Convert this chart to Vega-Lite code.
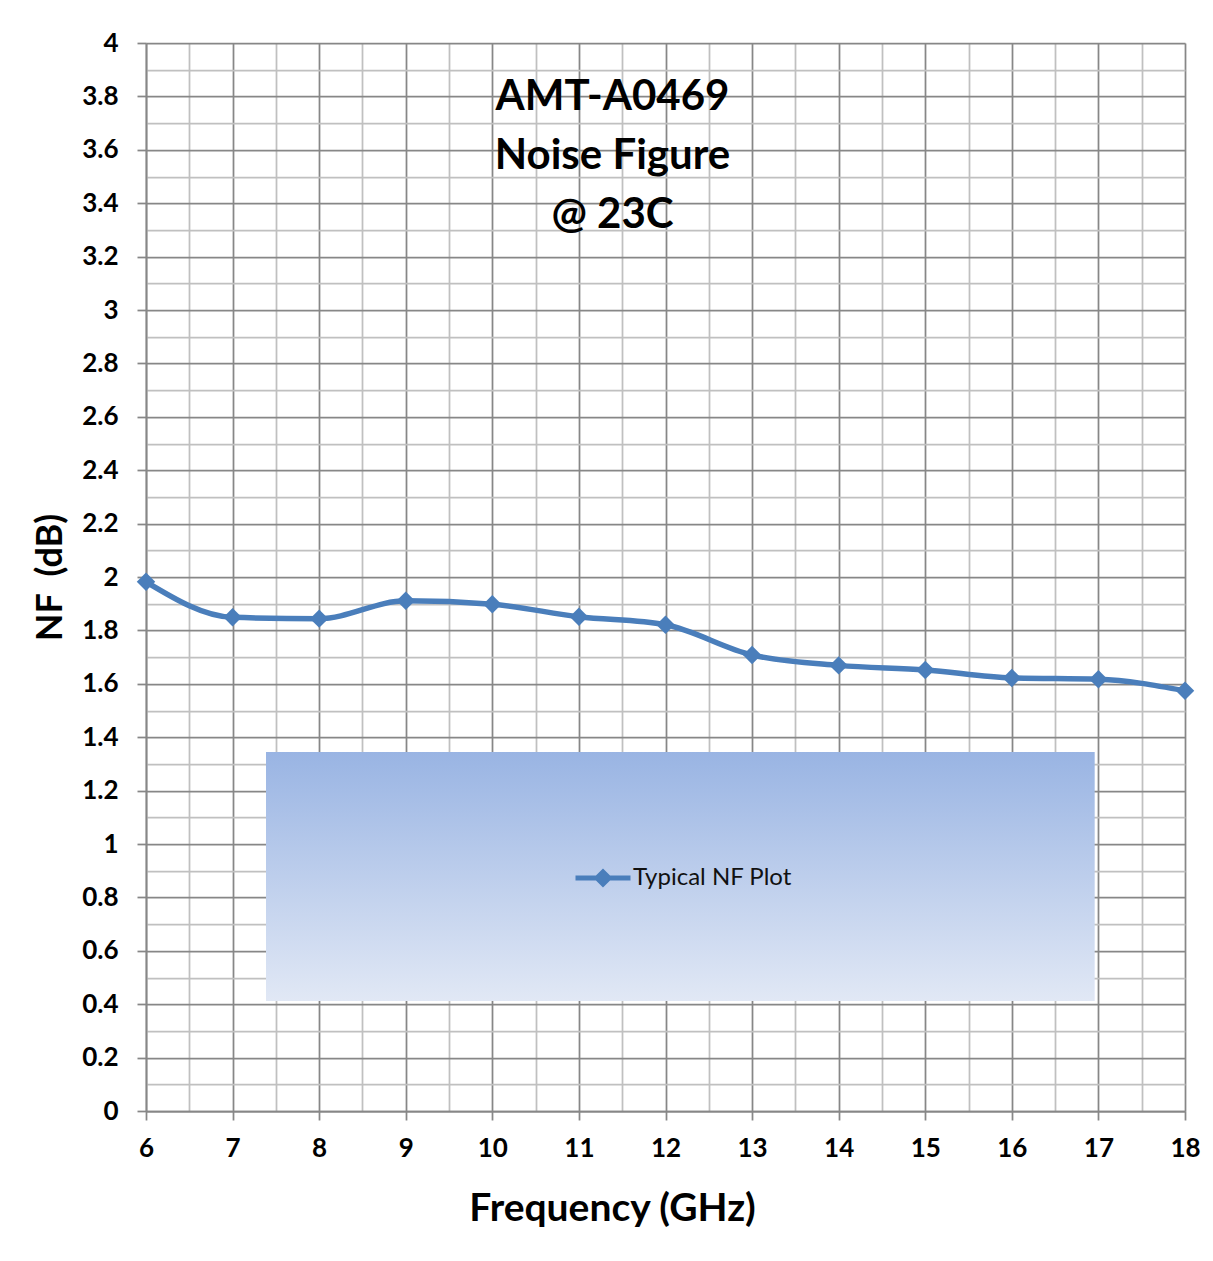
{
  "$schema": "https://vega.github.io/schema/vega-lite/v6.json",
  "width": 1039,
  "height": 1068,
  "autosize": {"type": "none"},
  "padding": {"left": 146, "top": 43, "right": 28, "bottom": 150},
  "background": "white",
  "config": {"view": {"stroke": null}, "font": "Lato"},
  "title": {
    "text": ["AMT-A0469", "Noise Figure", "@ 23C"],
    "font": "Lato",
    "fontSize": 42,
    "fontWeight": "bold",
    "color": "black",
    "lineHeight": 59,
    "anchor": "middle",
    "frame": "group",
    "baseline": "top",
    "dx": -53,
    "offset": -207
  },
  "data": {
    "values": [
      {"freq": 6, "nf": 1.982},
      {"freq": 7, "nf": 1.849},
      {"freq": 8, "nf": 1.844},
      {"freq": 9, "nf": 1.911},
      {"freq": 10, "nf": 1.898},
      {"freq": 11, "nf": 1.851},
      {"freq": 12, "nf": 1.821},
      {"freq": 13, "nf": 1.708},
      {"freq": 14, "nf": 1.669},
      {"freq": 15, "nf": 1.652},
      {"freq": 16, "nf": 1.622},
      {"freq": 17, "nf": 1.617},
      {"freq": 18, "nf": 1.574}
    ]
  },
  "layer": [
    {
      "mark": {
        "type": "rect",
        "color": {
          "gradient": "linear",
          "x1": 0, "y1": 0, "x2": 0, "y2": 1,
          "stops": [
            {"offset": 0, "color": "#99b4e3"},
            {"offset": 1, "color": "#e1e8f5"}
          ]
        }
      },
      "encoding": {
        "x": {"datum": 7.386, "type": "quantitative", "axis": null},
        "x2": {"datum": 16.95},
        "y": {"datum": 1.345, "type": "quantitative", "axis": null},
        "y2": {"datum": 0.412}
      }
    },
    {
      "mark": {"type": "line", "interpolate": "monotone", "strokeWidth": 5.5, "strokeCap": "round"},
      "encoding": {
        "x": {
          "field": "freq", "type": "quantitative",
          "scale": {"domain": [6, 18], "nice": false, "zero": false},
          "axis": {
            "orient": "bottom",
            "values": [6.5, 7.5, 8.5, 9.5, 10.5, 11.5, 12.5, 13.5, 14.5, 15.5, 16.5, 17.5],
            "grid": true, "gridColor": "#c0c0c0", "gridWidth": 1.75, "gridOpacity": 1,
            "labels": false, "ticks": false, "domain": false, "title": null
          }
        },
        "y": {
          "field": "nf", "type": "quantitative",
          "scale": {"domain": [0, 4], "nice": false},
          "axis": {
            "orient": "left",
            "values": [0.1, 0.3, 0.5, 0.7, 0.9, 1.1, 1.3, 1.5, 1.7, 1.9, 2.1, 2.3, 2.5, 2.7, 2.9, 3.1, 3.3, 3.5, 3.7, 3.9],
            "grid": true, "gridColor": "#c0c0c0", "gridWidth": 1.75, "gridOpacity": 1,
            "labels": false, "ticks": false, "domain": false, "title": null
          }
        },
        "color": {
          "datum": "Typical NF Plot",
          "type": "nominal",
          "scale": {"range": ["#4a7ebb"]},
          "legend": {
            "title": null,
            "orient": "none",
            "legendX": 427,
            "legendY": 805,
            "padding": 0,
            "symbolType": "M-1,0L1,0M0,-0.22L0.22,0L0,0.22L-0.22,0Z",
            "symbolSize": 3025,
            "symbolStrokeWidth": 5,
            "labelFont": "Lato",
            "labelFontSize": 24,
            "labelColor": "#111111",
            "labelOffset": 0,
            "encode": {
              "symbols": {
                "update": {
                  "fill": {"value": "#4a7ebb"},
                  "stroke": {"value": "#4a7ebb"},
                  "strokeWidth": {"value": 5},
                  "opacity": {"value": 1}
                }
              }
            }
          }
        }
      }
    },
    {
      "mark": {"type": "point", "shape": "diamond", "filled": true, "size": 340, "color": "#4a7ebb", "opacity": 1},
      "encoding": {
        "x": {
          "field": "freq", "type": "quantitative",
          "axis": {
            "orient": "bottom",
            "values": [6, 7, 8, 9, 10, 11, 12, 13, 14, 15, 16, 17, 18],
            "grid": true, "gridColor": "#878787", "gridWidth": 1.75, "gridOpacity": 1,
            "domain": true, "domainColor": "#878787", "domainWidth": 1.75,
            "ticks": true, "tickColor": "#878787", "tickWidth": 1.75, "tickSize": 9,
            "labelFont": "Lato", "labelFontSize": 26, "labelFontWeight": "bold", "labelColor": "black",
            "labelPadding": 15, "labelFlush": false,
            "title": "Frequency (GHz)",
            "titleFont": "Lato", "titleFontSize": 39, "titleFontWeight": "bold", "titleColor": "black",
            "titleX": 466, "titleY": 97, "titleBaseline": "middle", "titleAlign": "center"
          }
        },
        "y": {
          "field": "nf", "type": "quantitative",
          "axis": {
            "orient": "left",
            "values": [0, 0.2, 0.4, 0.6, 0.8, 1, 1.2, 1.4, 1.6, 1.8, 2, 2.2, 2.4, 2.6, 2.8, 3, 3.2, 3.4, 3.6, 3.8, 4],
            "format": "~g",
            "grid": true, "gridColor": "#878787", "gridWidth": 1.75, "gridOpacity": 1,
            "domain": true, "domainColor": "#878787", "domainWidth": 1.75,
            "ticks": true, "tickColor": "#878787", "tickWidth": 1.75, "tickSize": 9,
            "labelFont": "Lato", "labelFontSize": 26, "labelFontWeight": "bold", "labelColor": "black",
            "labelPadding": 19, "labelFlush": false,
            "title": "NF\u00a0\u00a0(dB)",
            "titleFont": "Lato", "titleFontSize": 36, "titleFontWeight": "bold", "titleColor": "black",
            "titleX": -96, "titleY": 534, "titleAngle": -90, "titleBaseline": "middle", "titleAlign": "center"
          }
        }
      }
    }
  ],
  "resolve": {"axis": {"x": "independent", "y": "independent"}}
}
